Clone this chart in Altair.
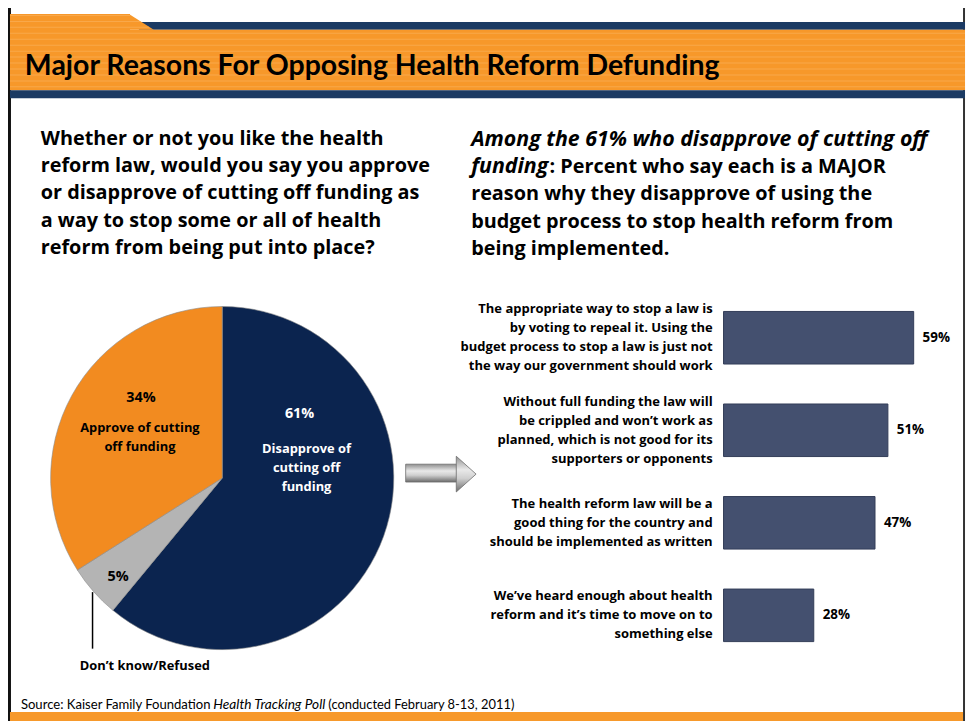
import altair as alt
import pandas as pd

# ---------------- data ----------------
pie_groups = ["Disapprove of cutting off funding", "Don't know/Refused", "Approve of cutting off funding"]
pie_values = [61, 5, 34]
pie_order = [1, 2, 3]
pie_colors = ["#0B244F", "#B4B4B4", "#F28B20"]

reason_ids = ["r1", "r2", "r3", "r4"]
reason_text = [
    "The appropriate way to stop a law is\nby voting to repeal it. Using the\nbudget process to stop a law is just not\nthe way our government should work",
    "Without full funding the law will\nbe crippled and won\u2019t work as\nplanned, which is not good for its\nsupporters or opponents",
    "The health reform law will be a\ngood thing for the country and\nshould be implemented as written",
    "We\u2019ve heard enough about health\nreform and it\u2019s time to move on to\nsomething else",
]
reason_values = [59, 51, 47, 28]
reason_labels = ["59%", "51%", "47%", "28%"]

FONT = "Open Sans"
TFONT = "Lato"
OFF = 8


def P(v):
    return v - OFF


one = pd.DataFrame({"a": [0]})


def rect(x1, y1, x2, y2, color, **kw):
    return alt.Chart(one).mark_rect(color=color, strokeWidth=0, **kw).encode(
        x=alt.value(P(x1)), x2=alt.value(P(x2)), y=alt.value(P(y1)), y2=alt.value(P(y2))
    )


def txt(s, x, y, size, weight="bold", style="normal", align="left", color="black",
        lh=None, baseline="middle", font=FONT):
    kw = dict(text=s, align=align, baseline=baseline, fontSize=size, fontWeight=weight,
              fontStyle=style, color=color, font=font, lineBreak="\n")
    if lh:
        kw["lineHeight"] = lh
    return alt.Chart(one).mark_text(**kw).encode(x=alt.value(P(x)), y=alt.value(P(y)))


layers = []

# ---- frame & title banner ----
ORANGE = "#F7982A"
NAVY = "#1B3A63"
layers.append(rect(8, 0, 11, 724, "#111111"))
layers.append(rect(971, 0, 973, 724, "#333333"))
layers.append(rect(140, 19, 973, 27, NAVY))
layers.append(rect(10, 11, 131, 27.5, ORANGE))
layers.append(rect(10, 27, 973, 88, ORANGE))
layers.append(rect(10, 88, 973, 96, NAVY))
layers.append(rect(10, 715, 971, 724, "#F7992B"))
# diagonal of the tab
tri = "M-1,-0.64L1,0.64L-1,0.64Z"
layers.append(alt.Chart(one).mark_point(shape=tri, size=625, filled=True, fill=ORANGE,
                                        strokeWidth=0, opacity=1).encode(
    x=alt.value(P(142.5)), y=alt.value(P(19))))
# faint stripes on banner
for yy in range(30, 88, 6):
    layers.append(rect(10, yy, 973, yy + 1, "#F9A84A"))
for yy in (12, 18, 24):
    layers.append(rect(10, yy, 130 + (yy - 11) * 25 / 16, yy + 1, "#F9A84A"))

layers.append(txt("Major Reasons For Opposing Health Reform Defunding", 25, 64, 28.7, font=TFONT))

# ---- question texts ----
layers.append(txt("Whether or not you like the health\nreform law, would you say you approve\n"
                  "or disapprove of cutting off funding as\na way to stop some or all of health\n"
                  "reform from being put into place?", 41, 137, 20, lh=27.5))
layers.append(txt("Among the 61% who disapprove of cutting off", 475, 138, 21.5, style="italic"))
layers.append(txt("funding", 475, 165, 21.5, style="italic"))
layers.append(txt(": Percent who say each is a MAJOR", 554, 165, 20))
layers.append(txt("reason why they disapprove of using the\nbudget process to stop health reform from\n"
                  "being implemented.", 475, 193, 20, lh=27.5))

# ---- pie ----
pie_df = pd.DataFrame({"group": pie_groups, "value": pie_values, "ord": pie_order})
pie = alt.Chart(pie_df).mark_arc(radius=173, stroke="#8a8a8a", strokeWidth=0.6).encode(
    theta=alt.Theta("value:Q", stack=True),
    order=alt.Order("ord:Q"),
    color=alt.Color("group:N", scale=alt.Scale(domain=pie_groups, range=pie_colors), legend=None),
    x=alt.value(P(224)), y=alt.value(P(479)),
)
layers.append(pie)

layers.append(txt("34%", 142, 398, 14.5, align="center"))
layers.append(txt("Approve of cutting\noff funding", 141, 429, 13, align="center", lh=19))
layers.append(txt("61%", 302, 414, 14.5, align="center", color="white"))
layers.append(txt("Disapprove of\ncutting off\nfunding", 309, 450, 13, align="center", color="white", lh=19))
layers.append(txt("5%", 119, 579, 14.5, align="center"))
layers.append(rect(92.5, 594, 94, 651, "#000000"))
layers.append(txt("Don\u2019t know/Refused", 146, 669, 13, align="center"))

# ---- arrow ----
grad = alt.LinearGradient(gradient="linear", x1=0, x2=0, y1=0, y2=1, stops=[
    alt.GradientStop(color="#8f8f8f", offset=0),
    alt.GradientStop(color="#e9e9e9", offset=0.38),
    alt.GradientStop(color="#cfcfcf", offset=0.62),
    alt.GradientStop(color="#6b6b6b", offset=1),
])
layers.append(alt.Chart(one).mark_rect(fill=grad, stroke="#6d6d6d", strokeWidth=0.8).encode(
    x=alt.value(P(409)), x2=alt.value(P(461)), y=alt.value(P(465)), y2=alt.value(P(483))))
head = "M-0.555,-1L0.555,0L-0.555,1Z"
layers.append(alt.Chart(one).mark_point(shape=head, size=1296, filled=True, fill=grad,
                                        stroke="#6d6d6d", strokeWidth=0.8, opacity=1).encode(
    x=alt.value(P(470)), y=alt.value(P(475))))

# ---- bars ----
bar_df = pd.DataFrame({"id": reason_ids, "text": reason_text, "value": reason_values,
                       "label": reason_labels,
                       "nlines": [t.count("\n") + 1 for t in reason_text]})
xs = alt.Scale(domain=[0, 100], range=[P(729.5), P(1054.5)])
ys = alt.Scale(domain=reason_ids, range=[P(290.85), P(664.05)], paddingInner=0.432, paddingOuter=0.216)
base = alt.Chart(bar_df)
bars = base.mark_bar(color="#44506F", stroke="#333d58", strokeWidth=1).encode(
    x=alt.X("value:Q", scale=xs, axis=None),
    y=alt.Y("id:N", scale=ys, axis=None),
)
vals = base.mark_text(align="left", baseline="middle", dx=9, fontSize=13.5, fontWeight="bold",
                      font=FONT, color="black").encode(
    x=alt.X("value:Q", scale=xs, axis=None),
    y=alt.Y("id:N", scale=ys, axis=None),
    text="label:N",
)
LH = 19.3
cat_layers = []
for n in (4, 3):
    cat_layers.append(base.transform_filter(alt.datum.nlines == n).mark_text(
        align="right", baseline="middle", fontSize=13.1, fontWeight="bold",
        font=FONT, color="black", lineBreak="\n", lineHeight=LH, dy=-(n - 1) * LH / 2).encode(
        x=alt.value(P(718.5)),
        y=alt.Y("id:N", scale=ys, axis=None),
        text="text:N",
    ))
layers += [bars, vals] + cat_layers

# ---- source ----
layers.append(txt("Source: Kaiser Family Foundation", 21, 708, 13.2, weight="normal", font=TFONT))
layers.append(txt("Health Tracking Poll", 215, 708, 13.8, weight="normal", style="italic", font=TFONT))
layers.append(txt("(conducted February 8-13, 2011)", 331, 708, 13, weight="normal", font=TFONT))

chart = alt.layer(*layers).properties(
    width=966, height=718, padding=0, background="white",
    autosize=alt.AutoSizeParams(type="none"),
).configure_view(stroke=None)

chart.save("out.html", embed_options={"renderer": "svg", "actions": False})
